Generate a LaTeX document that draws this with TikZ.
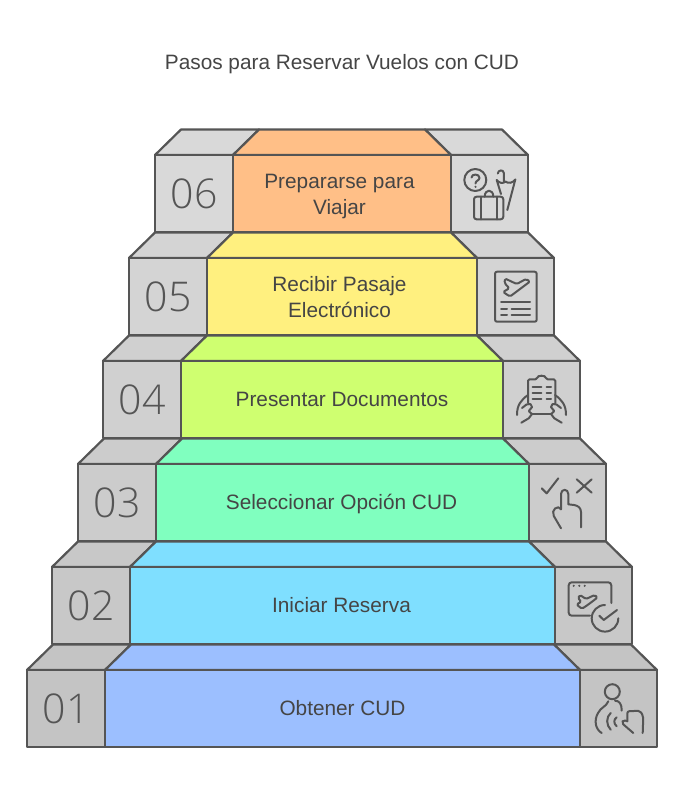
\documentclass[tikz,border=0pt]{standalone}
\usepackage{fontspec}
\setmainfont{Liberation Sans}
\newfontfamily\digitfont{Open Sans Light}
\definecolor{ink}{HTML}{555555}
\definecolor{txt}{HTML}{454545}
\definecolor{c06}{HTML}{FFBF87}
\definecolor{c05}{HTML}{FFF07F}
\definecolor{c04}{HTML}{CFFF70}
\definecolor{c03}{HTML}{80FFBF}
\definecolor{c02}{HTML}{7FDFFF}
\definecolor{c01}{HTML}{9CBFFF}
\tikzset{
  edge/.style={draw=ink,line width=2.2pt,line join=round},
  icon/.style={draw=ink,line width=2pt,line cap=round,line join=round},
  steptext/.style={text=txt,font=\fontsize{20.8}{26}\selectfont,align=center,inner sep=0pt},
  digit/.style={text=ink,font=\fontsize{41}{41}\digitfont,inner sep=0pt},
}
\newcommand{\handicon}{%
  \draw[icon] (517,415) .. controls (517,405) and (521,400) .. (528,395);
  \draw[icon] (521.3,422.7) -- (528.7,418.3) -- (532,414);
  \draw[icon,rounded corners=2] (522,408) -- (528,403.3) -- (532.5,405) -- (531.3,409.3) -- (528,410.7) -- (532,414);
}
\begin{document}
\begin{tikzpicture}[x=1pt,y=-1pt]
\useasboundingbox[fill=white] (0,0) rectangle (684,800);
\node[steptext] (title) at (342,64.5) {Pasos para Reservar Vuelos con CUD};
\foreach \n/\ft/\xl/\xr/\g/\dx/\dy/\lab in {
  01/670/27/657/23/0/40/{\strut Obtener CUD},
  02/567/52/632/21.5/-1/40/{\strut Iniciar Reserva},
  03/464/78/606/20/-1/40/{\strut Seleccionar Opción CUD},
  04/361/103/580/18.5/0/40/{\strut Presentar Documentos},
  05/258/129/554/17/-2.5/41/{\strut Recibir Pasaje\\\strut Electrónico},
  06/155/155/528/15/-2.5/41/{\strut Prepararse para\\\strut Viajar}}{
  \pgfmathsetmacro{\tty}{\ft-25.5}
  \pgfmathsetmacro{\fb}{\ft+77}
  \pgfmathsetmacro{\xcl}{\xl+78}
  \pgfmathsetmacro{\xcr}{\xr-77}
  \pgfmathsetmacro{\xlt}{\xl+26}
  \pgfmathsetmacro{\xclt}{\xcl+26}
  \pgfmathsetmacro{\xcrt}{\xcr-26}
  \pgfmathsetmacro{\xrt}{\xr-26}
  \path[edge,fill=black!\g] (\xl,\ft) -- (\xlt,\tty) -- (\xclt,\tty) -- (\xcl,\ft) -- cycle;
  \path[edge,fill=black!\g] (\xcr,\ft) -- (\xcrt,\tty) -- (\xrt,\tty) -- (\xr,\ft) -- cycle;
  \path[edge,fill=c\n] (\xcl,\ft) -- (\xclt,\tty) -- (\xcrt,\tty) -- (\xcr,\ft) -- cycle;
  \path[edge,fill=black!\g] (\xl,\ft) rectangle (\xcl,\fb);
  \path[edge,fill=black!\g] (\xcr,\ft) rectangle (\xr,\fb);
  \path[edge,fill=c\n] (\xcl,\ft) rectangle (\xcr,\fb);
  \node[digit] (num\n) at ({(\xl+\xcl)/2},{\ft+39}) {\n};
  \node[steptext] (lab\n) at ({(\xcl+\xcr)/2+\dx},{\ft+\dy}) {\lab};
}
% icon 06: question, suitcase, umbrella
\draw[icon] (475.3,180) circle (11);
\draw[icon] (471.5,177.5) .. controls (471.5,173.5) and (479.5,173.5) .. (479.5,178) .. controls (479.5,180.5) and (475.5,180.5) .. (475.5,183.5);
\fill[ink] (475.5,186.8) circle (1.2);
\draw[icon,rounded corners=2.5] (474,196.7) rectangle (503.3,219.3);
\draw[icon] (484.7,196.7) .. controls (484.7,188.7) and (493.3,188.7) .. (493.3,196.7);
\draw[icon] (480.7,196.7) -- (480.7,219.3) (497.3,196.7) -- (497.3,219.3);
\draw[icon] (496.7,180) -- (501,194) (515.3,179.5) -- (507.3,210);
\draw[icon] (496.7,180) .. controls (499,183) and (503,184) .. (505.5,181.5) .. controls (508,184) and (513,183) .. (515.3,179.5);
\draw[icon] (503.8,181.5) -- (503.8,173) .. controls (503.8,169.5) and (498,169.5) .. (497.8,173.5);
% icon 05: ticket
\draw[icon,rounded corners=2] (495,271.7) rectangle (536.7,321.7);
\draw[icon,rounded corners=1.5] (505,278.5) -- (516.7,284) -- (526,279) -- (530,281.5) -- (520,289) -- (510,296.5) -- (503,292) -- (509.3,288.3) -- (504.5,283) -- cycle;
\draw[icon] (501,302.3) -- (530,302.3) (501,308.5) -- (507,308.5) (511.5,308.5) -- (530,308.5) (501,315) -- (507,315) (511.5,315) -- (530,315);
% icon 04: clipboard held by two hands
\draw[icon,rounded corners=1.5] (528,403) -- (528,379.3) -- (537,379.3) .. controls (537.5,375) and (545.5,375) .. (546,379.3) -- (555.3,379.3) -- (555.3,403);
\draw[icon] (532.7,387.3) -- (541.3,387.3) (532.7,393.3) -- (541.3,393.3) (532.7,399.3) -- (541.3,399.3) (546.5,387.3) -- (551,387.3) (546.5,393.3) -- (551,393.3) (546.5,399.3) -- (551,399.3);
\draw[icon] (532,414) -- (551,414);
\handicon
\begin{scope}[xshift=1083pt,xscale=-1]\handicon\end{scope}
% icon 03: tick, cross, pointing hand
\draw[icon] (541.7,488.3) -- (546.7,493.3) -- (558.3,478.3);
\draw[icon] (576.7,479.3) -- (591.7,492.7) (591.7,479.3) -- (576.7,492.7);
\draw[icon] (561,509.3) -- (561,494) .. controls (561,488.5) and (568.3,488.5) .. (568.3,494) -- (568.3,504.3) -- (574,505) .. controls (578,505.5) and (581,508) .. (581,512) -- (581,527.3);
\draw[icon] (561,528.3) -- (553.8,516) .. controls (552.5,513) and (553,510) .. (555,508.5) .. controls (557,506.5) and (560,507) .. (561,509.3);
% icon 02: window, plane, check
\draw[icon,rounded corners=3] (590,615.7) -- (568.7,615.7) -- (568.7,582.3) -- (611.3,582.3) -- (611.3,603);
\fill[ink] (573.7,585.8) circle (1.2) (579.3,585.8) circle (1.2) (584.7,585.8) circle (1.2);
\draw[icon,rounded corners=1.5] (580,595) -- (586,599) -- (594.7,595) -- (597.5,597.5) -- (589,604) -- (582,608.8) -- (576.5,604.5) -- (581.3,601.7) -- (578,598) -- cycle;
\draw[icon] (605,605) arc[start angle=270,delta angle=-270,radius=13.3];
\draw[icon] (599.3,615.7) -- (603.7,620) -- (617,610);
% icon 01: person, sound waves, hand
\draw[icon] (612.3,691.7) circle (7.5);
\draw[icon] (608.3,701.3) .. controls (606,707) and (601,707) .. (598,713) .. controls (594,720) and (595,729) .. (601.7,733);
\draw[icon] (615,700.7) .. controls (619,700.5) and (622,704) .. (621.7,710.7);
\draw[icon] (610.7,713) .. controls (606,717) and (606,725) .. (610.7,729.7);
\draw[icon] (616.7,717.3) .. controls (613.5,719.5) and (613.5,723.5) .. (616.7,726.3);
\draw[icon,rounded corners=2] (627.3,721.3) -- (627.3,711.3) -- (640,710.7) -- (643.3,716.3) -- (642.7,733);
\draw[icon,rounded corners=2] (627.3,721.3) -- (623.3,719.7) -- (621.7,723) -- (633.3,733);
\end{tikzpicture}
\end{document}
